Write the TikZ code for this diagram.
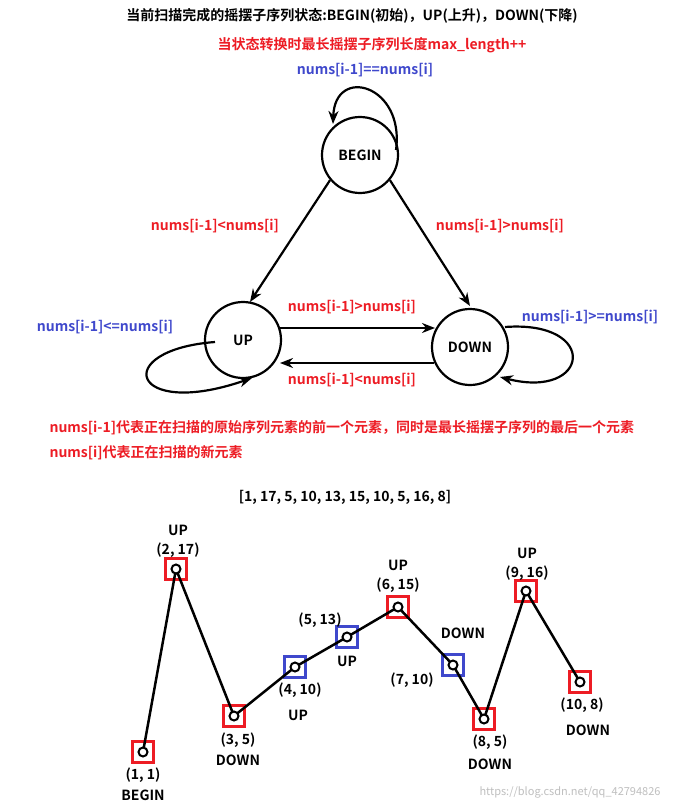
\documentclass[tikz,border=0pt]{standalone}
\usepackage{fontspec}
\setmainfont{Noto Sans CJK SC}[BoldFont={* Bold}]
\usetikzlibrary{arrows.meta}
\definecolor{rd}{RGB}{237,28,36}
\definecolor{bl}{RGB}{63,72,204}
\begin{document}
\begin{tikzpicture}[x=1pt,y=-1pt,font=\bfseries\fontsize{14}{16}\selectfont,
 st/.style={circle,draw,line width=2.2pt,minimum size=76pt,inner sep=0pt},
 ar/.style={line width=2.2pt,-{Stealth[length=13pt,width=10pt]}},
 rl/.style={text=rd}, bll/.style={text=bl},
 pt/.style={draw,line width=2.5pt,minimum size=21pt,inner sep=0pt},
 dot/.style={circle,draw,line width=2pt,minimum size=9pt,inner sep=0pt}]
\fill[white] (0,0) rectangle (700,810);
\node (t1) at (352,16) {当前扫描完成的摇摆子序列状态:BEGIN(初始)，UP(上升)，DOWN(下降)};
\node[rl] (t2) at (372,45) {当状态转换时最长摇摆子序列长度max\_length++};
\node[st] (B) at (360,155) {BEGIN};
\node[st] (U) at (243,340) {UP};
\node[st] (D) at (470,347) {DOWN};
\draw[ar] (B.220) -- (250,302);
\draw[ar] (B.320) -- (470,306);
\draw[ar] (280,328) -- (435,328);
\draw[ar] (434,363) -- (280,363);
\draw[ar] (396,150) .. controls (405,85) and (335,65) .. (333,124);
\draw[ar] (215,342) .. controls (110,350) and (130,420) .. (252,378);
\draw[ar] (505,327) .. controls (600,320) and (590,400) .. (500,377);
\node[bll] (l1) at (365,70) {nums[i-1]==nums[i]};
\node[rl] (l2) at (215,226) {nums[i-1]<nums[i]};
\node[rl] (l3) at (500,226) {nums[i-1]>nums[i]};
\node[rl] (l4) at (352,307) {nums[i-1]>nums[i]};
\node[rl] (l5) at (352,380) {nums[i-1]<nums[i]};
\node[bll] (l6) at (105,327) {nums[i-1]<=nums[i]};
\node[bll] (l7) at (590,317) {nums[i-1]>=nums[i]};
\node[rl,anchor=west] (n1) at (46,428) {nums[i-1]代表正在扫描的原始序列元素的前一个元素，同时是最长摇摆子序列的最后一个元素};
\node[rl,anchor=west] (n2) at (46,453) {nums[i]代表正在扫描的新元素};
\node (arr) at (345,497) {[1, 17, 5, 10, 13, 15, 10, 5, 16, 8]};
\foreach \n/\x/\y/\c in {p1/143/752/rd,p2/176/569/rd,p3/234/716/rd,p4/295/667/bl,p5/347/637/bl,p6/398/607/rd,p7/453/665/bl,p8/484/719/rd,p9/526/591/rd,p10/580/682/rd}
 {\node[pt,draw=\c] (\n) at (\x,\y) {};}
\draw[line width=2.5pt] (p1.center)--(p2.center)--(p3.center)--(p4.center)--(p5.center)--(p6.center)--(p7.center)--(p8.center)--(p9.center)--(p10.center);
\foreach \n in {p1,p2,p3,p4,p5,p6,p7,p8,p9,p10} {\node[dot,fill=white] at (\n) {};}
\node at (143,775) {(1, 1)}; \node at (143,795) {BEGIN};
\node at (178,530) {UP}; \node at (178,550) {(2, 17)};
\node at (238,740) {(3, 5)}; \node at (238,760) {DOWN};
\node at (300,690) {(4, 10)}; \node at (298,715) {UP};
\node at (320,620) {(5, 13)}; \node at (347,661) {UP};
\node at (398,565) {UP}; \node at (398,585) {(6, 15)};
\node at (463,633) {DOWN}; \node at (412,680) {(7, 10)};
\node at (490,742) {(8, 5)}; \node at (490,764) {DOWN};
\node at (527,553) {UP}; \node at (527,573) {(9, 16)};
\node at (582,705) {(10, 8)}; \node at (588,730) {DOWN};
\node[text=black!25,font=\fontsize{11}{13}\selectfont] at (570,792) {https://blog.csdn.net/qq\_42794826};
\end{tikzpicture}
\end{document}
